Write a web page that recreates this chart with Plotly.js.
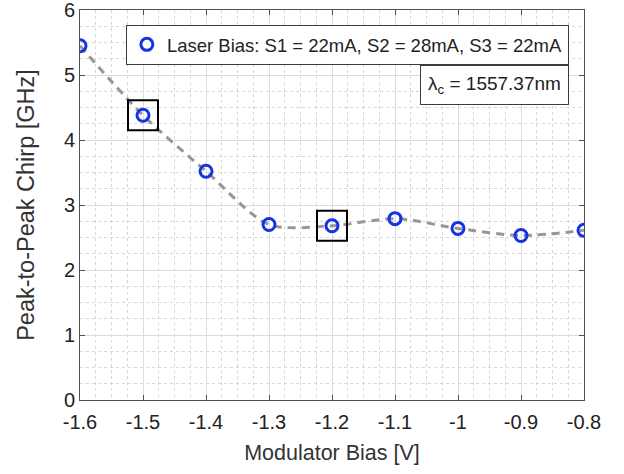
<!DOCTYPE html>
<html><head><meta charset="utf-8">
<script src="https://cdn.plot.ly/plotly-3.0.1.min.js"></script>
<style>body{margin:0;background:#fff}#c{width:624px;height:474px}</style>
</head><body><div id="c"></div>
<script>
const modBias = [-1.6, -1.5, -1.4, -1.3, -1.2, -1.1, -1.0, -0.9, -0.8];
const chirp = [5.45, 4.38, 3.52, 2.70, 2.68, 2.79, 2.64, 2.53, 2.61];
const highlightX = [-1.5, -1.2];
const highlightY = [4.38, 2.68];
const xTickVals = [-1.6, -1.5, -1.4, -1.3, -1.2, -1.1, -1.0, -0.9, -0.8];
const xTickText = ['-1.6','-1.5','-1.4','-1.3','-1.2','-1.1','-1','-0.9','-0.8'];
const yTickVals = [0, 1, 2, 3, 4, 5, 6];
const seriesName = 'Laser Bias: S1 = 22mA, S2 = 28mA, S3 = 22mA';

const font = 'Liberation Sans, Arial, sans-serif';
const traces = [
  {x: modBias, y: chirp, mode: 'lines', line: {color: 'rgb(150,150,150)', width: 3, dash: '8px,6px', shape: 'spline', smoothing: 0.8}, showlegend: false, hoverinfo: 'skip'},
  {x: modBias, y: chirp, mode: 'markers', name: seriesName,
   marker: {symbol: 'circle-open', size: 12, color: 'rgb(20,50,230)', line: {width: 3, color: 'rgb(20,50,230)'}}}
];
const shapes = highlightX.map((hx, i) => ({
  type: 'rect', xref: 'x', yref: 'y', xsizemode: 'pixel', ysizemode: 'pixel',
  xanchor: hx, yanchor: highlightY[i], x0: -15, x1: 15, y0: -15, y1: 15,
  line: {color: 'black', width: 2}
}));
const axisCommon = {showline: true, linecolor: 'rgb(80,80,80)', linewidth: 1, mirror: 'ticks', ticks: 'inside', ticklen: 5, tickcolor: 'rgb(80,80,80)',
  showgrid: true, gridcolor: 'rgb(220,220,220)', gridwidth: 1, zeroline: false, automargin: false, ticklabeloverflow: 'allow',
  tickfont: {family: font, size: 20, color: '#222'}};
const layout = {
  width: 624, height: 474, margin: {l: 80, r: 40, t: 10, b: 74},
  paper_bgcolor: 'white', plot_bgcolor: 'white',
  xaxis: Object.assign({}, axisCommon, {range: [-1.6, -0.8], tickmode: 'array', tickvals: xTickVals, ticktext: xTickText,
    ticklabelstandoff: 4,
    minor: {dtick: 0.025, showgrid: true, gridcolor: 'rgb(215,215,215)', griddash: 'dot', gridwidth: 1},
    title: {text: 'Modulator Bias [V]', font: {family: font, size: 21.5, color: '#333'}, standoff: 12}}),
  yaxis: Object.assign({}, axisCommon, {range: [0, 6.0001], tickmode: 'array', tickvals: yTickVals,
    minor: {dtick: 0.25, showgrid: true, gridcolor: 'rgb(215,215,215)', griddash: 'dot', gridwidth: 1},
    title: {text: 'Peak-to-Peak Chirp [GHz]', font: {family: font, size: 23.5, color: '#333'}, standoff: 22}}),
  showlegend: true,
  legend: {x: 0.970, y: 0.962, xanchor: 'right', yanchor: 'top', bgcolor: 'white', bordercolor: 'rgb(60,60,60)', borderwidth: 1,
    font: {family: font, size: 18.5, color: '#222'}, itemwidth: 30},
  shapes: shapes,
  annotations: [{xref: 'paper', yref: 'paper', x: 0.970, y: 0.860, xanchor: 'right', yanchor: 'top', showarrow: false,
    text: 'λ<sub>c</sub> = 1557.37nm', font: {family: font, size: 19, color: '#222'},
    bgcolor: 'white', bordercolor: 'rgb(60,60,60)', borderwidth: 1, borderpad: 7}]
};
Plotly.newPlot('c', traces, layout, {displayModeBar: false, staticPlot: true});
</script></body></html>
